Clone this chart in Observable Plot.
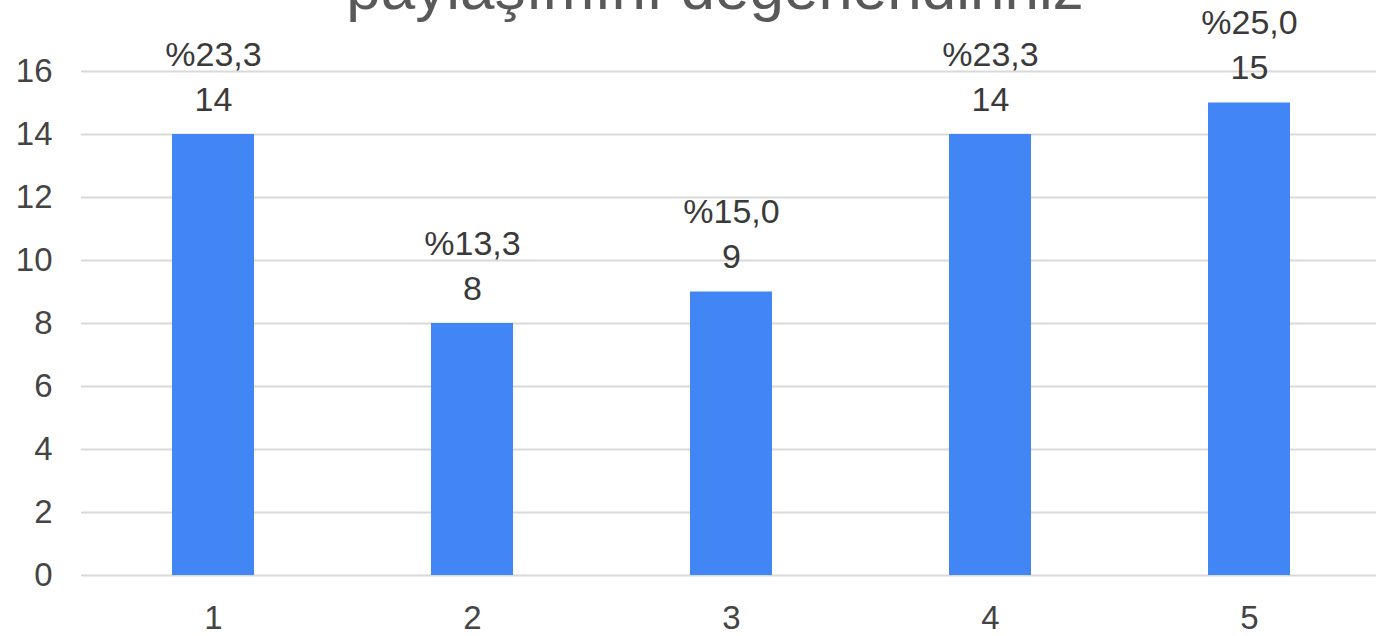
<!DOCTYPE html>
<html><head><meta charset="utf-8">
<script src="https://cdn.jsdelivr.net/npm/d3@7"></script>
<script src="https://cdn.jsdelivr.net/npm/@observablehq/plot@0.6"></script>
<style>
body{margin:0;background:#fff;overflow:hidden;}
#wrap{position:relative;width:1376px;height:636px;overflow:hidden;}
#title{position:absolute;left:0;width:1430px;text-align:center;top:-48px;line-height:normal;font-family:"Liberation Sans",Arial,sans-serif;font-size:62px;color:#595959;white-space:nowrap;}
#chart{position:absolute;left:0;top:0;}
</style></head>
<body><div id="wrap"><div id="title">paylaşımını değerlendiriniz</div><div id="chart"></div></div>
<script>
const categories = ["1","2","3","4","5"];
const counts = [14, 8, 9, 14, 15];
const percents = ["%23,3","%13,3","%15,0","%23,3","%25,0"];
const yTicks = [0,2,4,6,8,10,12,14,16];

const data = categories.map((c,i)=>({cat:c, n:counts[i], pct:percents[i]}));

const chart = Plot.plot({
  width:1376, height:636,
  marginLeft:81, marginRight:0, marginTop:71, marginBottom:61,
  style:{fontFamily:'"Liberation Sans",Arial,sans-serif', fontSize:"32px", color:"#444", background:"transparent"},
  x:{domain:categories, range:[81,1380], paddingInner:0.685, paddingOuter:0.3425, label:null},
  y:{domain:[0,16], range:[575,71], label:null},
  marks:[
    Plot.ruleY(yTicks, {stroke:"#d9d9d9", strokeWidth:2}),
    Plot.barY(data, {x:"cat", y:"n", fill:"#4285f4"}),
    Plot.text(data, {x:"cat", y:"n", text:d=>d.pct+"\n"+d.n, lineAnchor:"bottom", dy:-24, lineHeight:1.32, fontSize:34, fill:"#3a3a3a"}),
    Plot.axisY(yTicks, {tickSize:0, tickPadding:29, fontSize:33, fill:"#444"}),
    Plot.axisX({tickSize:0, tickPadding:30, fontSize:33, fill:"#444"})
  ]
});
document.getElementById("chart").appendChild(chart);
</script></body></html>
